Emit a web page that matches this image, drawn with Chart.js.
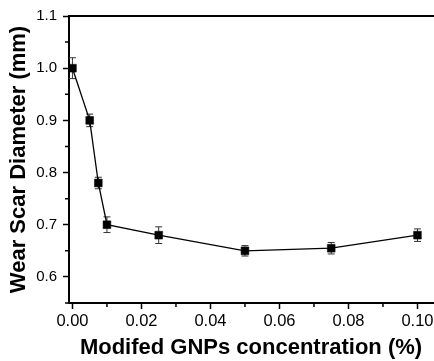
<!DOCTYPE html>
<html>
<head>
<meta charset="utf-8">
<script src="https://cdn.jsdelivr.net/npm/chart.js@4"></script>
<style>
html,body{margin:0;padding:0;background:#fff;}
#c{display:block;}
</style>
</head>
<body>
<canvas id="c" width="434" height="361"></canvas>
<script>
// ---- data ----
const concentrations = [0, 0.005, 0.0075, 0.01, 0.025, 0.05, 0.075, 0.1];
const wearScar = [1.0, 0.9, 0.78, 0.70, 0.68, 0.65, 0.655, 0.68];
const wearErr = [0.02, 0.012, 0.011, 0.015, 0.016, 0.01, 0.011, 0.012];
const xTicks = [0, 0.02, 0.04, 0.06, 0.08, 0.10];
const xMinorTicks = [0.01, 0.03, 0.05, 0.07, 0.09];
const yTicks = [0.6, 0.7, 0.8, 0.9, 1.0, 1.1];
const yMinorTicks = [0.55, 0.65, 0.75, 0.85, 0.95, 1.05];
const xTitle = 'Modifed GNPs concentration (%)';
const yTitle = 'Wear Scar Diameter (mm)';

const points = concentrations.map((x, i) => ({x: x, y: wearScar[i]}));

const errorBars = {
  id: 'errorBars',
  beforeDatasetsDraw(chart) {
    const ctx = chart.ctx;
    const xs = chart.scales.x, ys = chart.scales.y;
    ctx.save();
    ctx.strokeStyle = '#333';
    ctx.lineWidth = 1;
    concentrations.forEach((c, i) => {
      const px = xs.getPixelForValue(c);
      const top = ys.getPixelForValue(wearScar[i] + wearErr[i]);
      const bot = ys.getPixelForValue(wearScar[i] - wearErr[i]);
      ctx.beginPath();
      ctx.moveTo(px, top); ctx.lineTo(px, bot);
      ctx.moveTo(px - 3.5, top); ctx.lineTo(px + 3.5, top);
      ctx.moveTo(px - 3.5, bot); ctx.lineTo(px + 3.5, bot);
      ctx.stroke();
    });
    ctx.restore();
  }
};

const minorTicks = {
  id: 'minorTicks',
  afterDraw(chart) {
    const ctx = chart.ctx;
    const xs = chart.scales.x, ys = chart.scales.y;
    const a = chart.chartArea;
    ctx.save();
    ctx.strokeStyle = '#000';
    ctx.lineWidth = 1.5;
    ctx.beginPath();
    yMinorTicks.forEach(v => {
      const py = ys.getPixelForValue(v);
      ctx.moveTo(a.left - 4, py); ctx.lineTo(a.left, py);
    });
    xMinorTicks.forEach(v => {
      const px = xs.getPixelForValue(v);
      ctx.moveTo(px, a.bottom); ctx.lineTo(px, a.bottom + 4);
    });
    ctx.stroke();
    ctx.restore();
  }
};

new Chart(document.getElementById('c'), {
  type: 'scatter',
  data: {
    datasets: [{
      data: points,
      showLine: true,
      borderColor: '#000',
      borderWidth: 1.3,
      backgroundColor: '#000',
      pointStyle: 'rect',
      pointRadius: 5.5,
      pointBorderWidth: 0.5,
      pointBorderColor: '#000',
      pointBackgroundColor: '#000'
    }]
  },
  options: {
    responsive: false,
    animation: false,
    events: [],
    layout: {autoPadding: false, padding: {left: 0, right: 1, top: 16, bottom: 0}},
    plugins: {legend: {display: false}, tooltip: {enabled: false}},
    scales: {
      x: {
        type: 'linear',
        position: 'bottom',
        min: -0.001,
        max: 0.1045,
        afterBuildTicks: s => { s.ticks = xTicks.map(v => ({value: v})); },
        afterFit: s => { s.height = 58; s.paddingLeft = 0; s.paddingRight = 0; },
        ticks: {
          color: '#000',
          font: {family: 'Liberation Sans, Arial, sans-serif', size: 16.5},
          padding: 3,
          maxRotation: 0,
          autoSkip: false,
          callback: v => v.toFixed(2)
        },
        grid: {display: true, drawOnChartArea: false, drawTicks: true, tickLength: 6, tickWidth: 1.5, tickColor: '#000', color: '#000'},
        border: {display: true, color: '#000', width: 2},
        title: {
          display: true, text: xTitle, color: '#000',
          font: {family: 'Liberation Sans, Arial, sans-serif', size: 22, weight: 'bold', lineHeight: 1.15},
          padding: {top: 0, bottom: 0}
        }
      },
      xTop: {
        type: 'linear',
        position: 'top',
        min: -0.001,
        max: 0.1045,
        afterFit: s => { s.height = 0; s.paddingLeft = 0; s.paddingRight = 0; },
        ticks: {display: false},
        grid: {display: false, drawTicks: false},
        border: {display: true, color: '#000', width: 2}
      },
      y: {
        type: 'linear',
        position: 'left',
        min: 0.55,
        max: 1.1,
        afterBuildTicks: s => { s.ticks = yTicks.map(v => ({value: v})); },
        afterFit: s => { s.width = 69; s.paddingTop = 0; s.paddingBottom = 0; },
        ticks: {
          color: '#000',
          font: {family: 'Liberation Sans, Arial, sans-serif', size: 15},
          padding: 6,
          callback: v => v.toFixed(1)
        },
        grid: {display: true, drawOnChartArea: false, drawTicks: true, tickLength: 6, tickWidth: 1.5, tickColor: '#000', color: '#000'},
        border: {display: true, color: '#000', width: 2},
        title: {
          display: true, text: yTitle, color: '#000',
          font: {family: 'Liberation Sans, Arial, sans-serif', size: 22, weight: 'bold', lineHeight: 1.15},
          padding: {top: 6.5, bottom: 0}
        }
      }
    }
  },
  plugins: [errorBars, minorTicks]
});
</script>
</body>
</html>
